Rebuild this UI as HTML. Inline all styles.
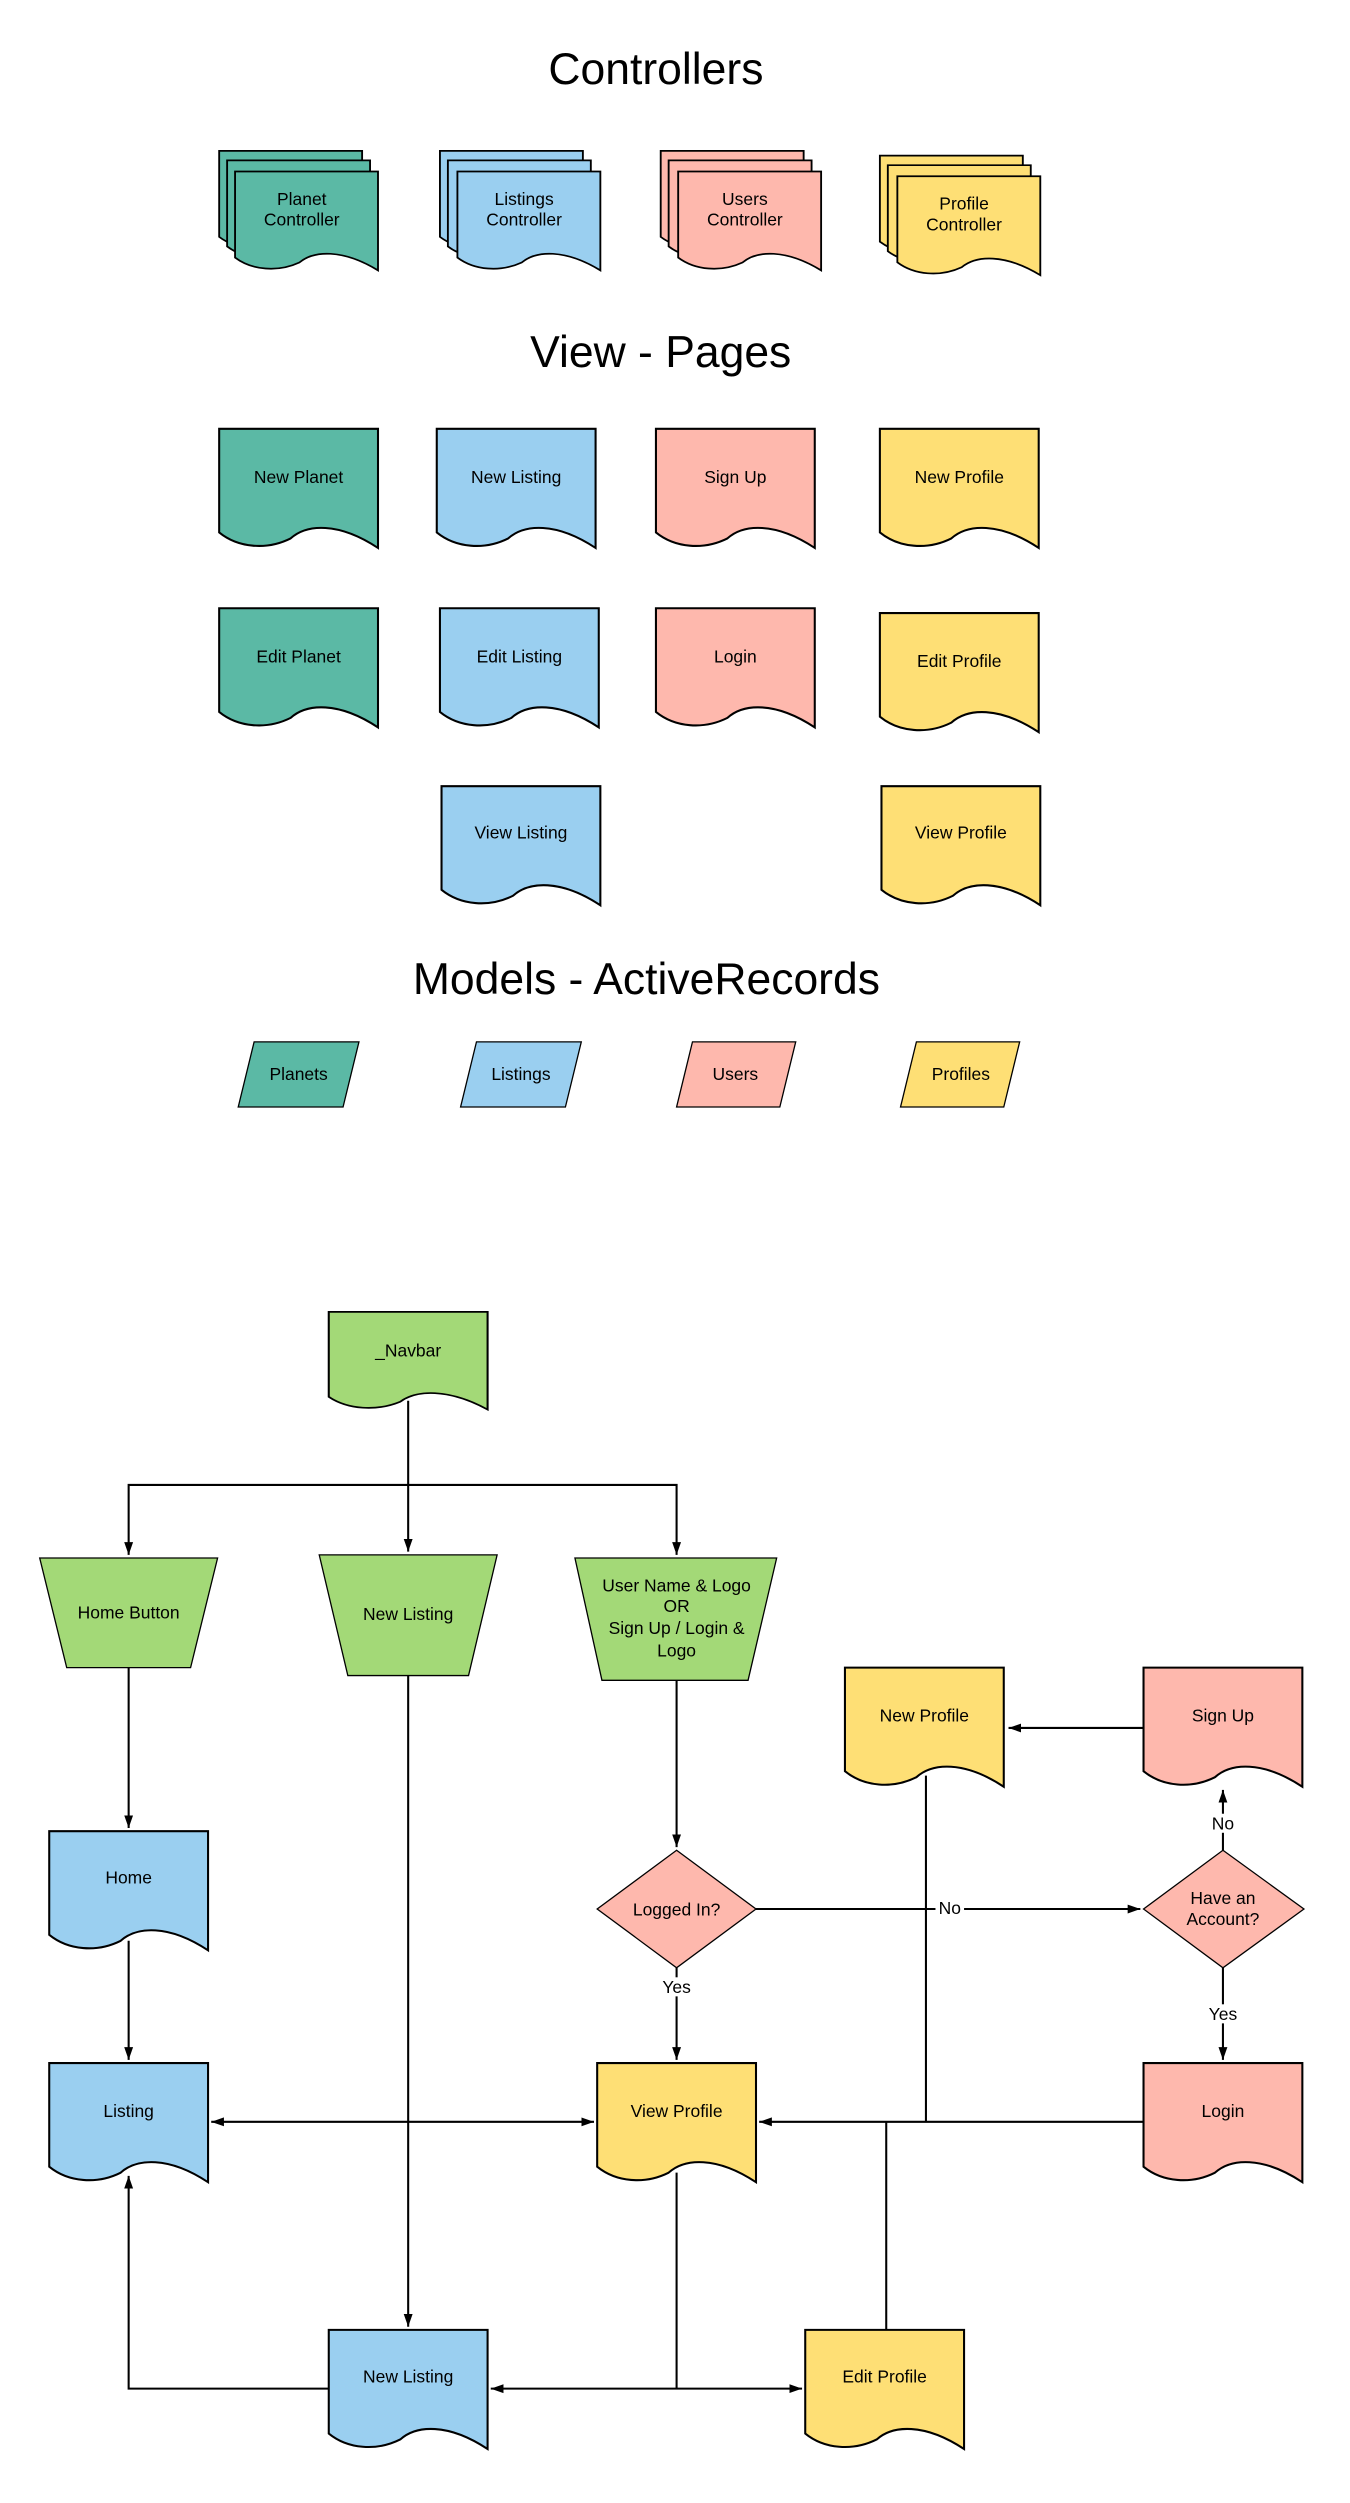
<!DOCTYPE html>
<html><head><meta charset="utf-8"><style>
html,body{margin:0;padding:0;background:#fff;}
svg{display:block;}
text{font-family:"Liberation Sans",sans-serif;fill:#000;}
.t{font-size:11px;text-anchor:middle;}
.h{font-size:28px;text-anchor:middle;}
.d{stroke:#000;stroke-width:1.3;vector-effect:non-scaling-stroke;}
.l{fill:none;stroke:#000;stroke-width:1.3;}
.a{marker-end:url(#ar);}
.b{marker-start:url(#ar);marker-end:url(#ar);}
.g{fill:#5bb9a5}.bl{fill:#9acff0}.p{fill:#feb8ad}.y{fill:#fedf75}.gr{fill:#a3d977}
</style></head><body>
<svg width="1350" height="2503" viewBox="0 0 850 1576" preserveAspectRatio="none" xmlns="http://www.w3.org/2000/svg">
<defs>
<marker id="ar" viewBox="0 0 10 10" refX="10" refY="5" markerWidth="8" markerHeight="8" orient="auto-start-reverse" markerUnits="userSpaceOnUse"><path d="M0 1.5L10 5L0 8.5Z" fill="#000"/></marker>
<path id="doc" d="M0 0H100V75C75 58.5 55 60 45 69C30 76.5 12 75 0 65.25Z"/>
</defs>

<text class="h" x="413" y="53">Controllers</text>
<g class="d g">
<use href="#doc" transform="translate(138,95) scale(0.9,0.83)"/>
<use href="#doc" transform="translate(143,101) scale(0.9,0.83)"/>
<use href="#doc" transform="translate(148,108) scale(0.9,0.83)"/>
</g>
<text class="t" x="190" y="129">Planet</text><text class="t" x="190" y="142">Controller</text>
<g class="d bl">
<use href="#doc" transform="translate(277,95) scale(0.9,0.83)"/>
<use href="#doc" transform="translate(282,101) scale(0.9,0.83)"/>
<use href="#doc" transform="translate(288,108) scale(0.9,0.83)"/>
</g>
<text class="t" x="330" y="129">Listings</text><text class="t" x="330" y="142">Controller</text>
<g class="d p">
<use href="#doc" transform="translate(416,95) scale(0.9,0.83)"/>
<use href="#doc" transform="translate(421,101) scale(0.9,0.83)"/>
<use href="#doc" transform="translate(427,108) scale(0.9,0.83)"/>
</g>
<text class="t" x="469" y="129">Users</text><text class="t" x="469" y="142">Controller</text>
<g class="d y">
<use href="#doc" transform="translate(554,98) scale(0.9,0.83)"/>
<use href="#doc" transform="translate(559,104) scale(0.9,0.83)"/>
<use href="#doc" transform="translate(565,111) scale(0.9,0.83)"/>
</g>
<text class="t" x="607" y="132">Profile</text><text class="t" x="607" y="145">Controller</text>

<text class="h" x="416" y="231">View - Pages</text>
<use class="d g" href="#doc" transform="translate(138,270)"/><text class="t" x="188" y="304">New Planet</text>
<use class="d bl" href="#doc" transform="translate(275,270)"/><text class="t" x="325" y="304">New Listing</text>
<use class="d p" href="#doc" transform="translate(413,270)"/><text class="t" x="463" y="304">Sign Up</text>
<use class="d y" href="#doc" transform="translate(554,270)"/><text class="t" x="604" y="304">New Profile</text>
<use class="d g" href="#doc" transform="translate(138,383)"/><text class="t" x="188" y="417">Edit Planet</text>
<use class="d bl" href="#doc" transform="translate(277,383)"/><text class="t" x="327" y="417">Edit Listing</text>
<use class="d p" href="#doc" transform="translate(413,383)"/><text class="t" x="463" y="417">Login</text>
<use class="d y" href="#doc" transform="translate(554,386)"/><text class="t" x="604" y="420">Edit Profile</text>
<use class="d bl" href="#doc" transform="translate(278,495)"/><text class="t" x="328" y="528">View Listing</text>
<use class="d y" href="#doc" transform="translate(555,495)"/><text class="t" x="605" y="528">View Profile</text>

<text class="h" x="407" y="626">Models - ActiveRecords</text>
<path class="d g" d="M160 656H226L216 697H150Z"/><text class="t" x="188" y="680">Planets</text>
<path class="d bl" d="M300 656H366L356 697H290Z"/><text class="t" x="328" y="680">Listings</text>
<path class="d p" d="M436 656H501L491 697H426Z"/><text class="t" x="463" y="680">Users</text>
<path class="d y" d="M577 656H642L632 697H567Z"/><text class="t" x="605" y="680">Profiles</text>

<path class="l a" d="M257 882V977"/>
<path class="l a" d="M257 935H81V979"/>
<path class="l a" d="M257 935H426V979"/>
<path class="l a" d="M81 1050V1151"/>
<path class="l a" d="M81 1222V1297"/>
<path class="l a" d="M257 1055V1465"/>
<path class="l a" d="M426 1058V1163"/>
<path class="l a" d="M476 1202H718"/>
<path class="l a" d="M770 1165V1127"/>
<path class="l a" d="M770 1239V1297"/>
<path class="l a" d="M426 1239V1297"/>
<path class="l a" d="M720 1088H635"/>
<path class="l b" d="M133 1336H374"/>
<path class="l a" d="M720 1336H478"/>
<path class="l" d="M583 1118V1336"/>
<path class="l" d="M558 1336V1467"/>
<path class="l a" d="M207 1504H81V1370"/>
<path class="l" d="M426 1368V1504"/>
<path class="l b" d="M309 1504H505"/>

<use class="d gr" href="#doc" transform="translate(207,826) scale(1,0.82)"/><text class="t" x="257" y="854">_Navbar</text>
<path class="d gr" d="M25 981H137L120 1050H42Z"/><text class="t" x="81" y="1019">Home Button</text>
<path class="d gr" d="M201 979H313L295 1055H219Z"/><text class="t" x="257" y="1020">New Listing</text>
<path class="d gr" d="M362 981H489L471 1058H379Z"/>
<text class="t" x="426" y="1002">User Name &amp; Logo</text><text class="t" x="426" y="1015">OR</text><text class="t" x="426" y="1029">Sign Up / Login &amp;</text><text class="t" x="426" y="1043">Logo</text>
<use class="d y" href="#doc" transform="translate(532,1050)"/><text class="t" x="582" y="1084">New Profile</text>
<use class="d p" href="#doc" transform="translate(720,1050)"/><text class="t" x="770" y="1084">Sign Up</text>
<use class="d bl" href="#doc" transform="translate(31,1153)"/><text class="t" x="81" y="1186">Home</text>
<path class="d p" d="M426 1165L476 1202L426 1239L376 1202Z"/><text class="t" x="426" y="1206">Logged In?</text>
<path class="d p" d="M770 1165L821 1202L770 1239L720 1202Z"/><text class="t" x="770" y="1199">Have an</text><text class="t" x="770" y="1212">Account?</text>
<rect x="589" y="1195" width="18" height="12" fill="#fff"/><text class="t" x="598" y="1205">No</text>
<rect x="761" y="1142" width="18" height="12" fill="#fff"/><text class="t" x="770" y="1152">No</text>
<rect x="759" y="1262" width="22" height="12" fill="#fff"/><text class="t" x="770" y="1272">Yes</text>
<rect x="415" y="1245" width="22" height="12" fill="#fff"/><text class="t" x="426" y="1255">Yes</text>
<use class="d bl" href="#doc" transform="translate(31,1299)"/><text class="t" x="81" y="1333">Listing</text>
<use class="d y" href="#doc" transform="translate(376,1299)"/><text class="t" x="426" y="1333">View Profile</text>
<use class="d p" href="#doc" transform="translate(720,1299)"/><text class="t" x="770" y="1333">Login</text>
<use class="d bl" href="#doc" transform="translate(207,1467)"/><text class="t" x="257" y="1500">New Listing</text>
<use class="d y" href="#doc" transform="translate(507,1467)"/><text class="t" x="557" y="1500">Edit Profile</text>
</svg>
</body></html>
